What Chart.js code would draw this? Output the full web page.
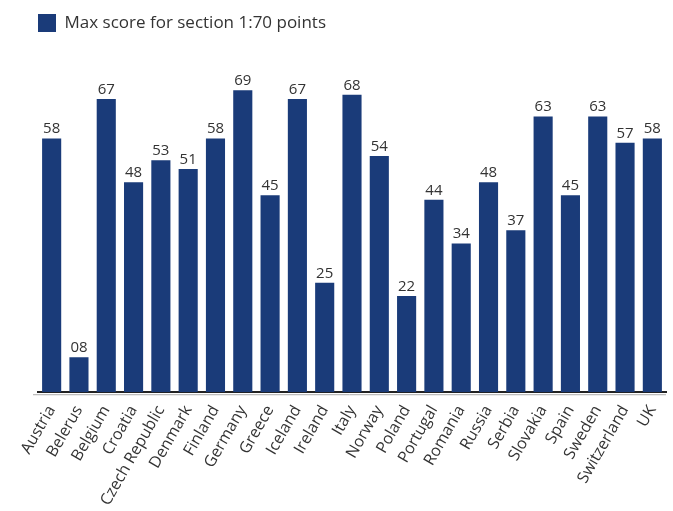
<!DOCTYPE html>
<html>
<head>
<meta charset="utf-8">
<script src="https://cdn.jsdelivr.net/npm/chart.js@4"></script>
<style>
  html, body { margin: 0; padding: 0; background: #fff; }
  #wrap { width: 673px; height: 511px; }
</style>
</head>
<body>
<div id="wrap"><canvas id="scoreChart" width="673" height="511"></canvas></div>
<script>
// Countries and their max score (section 1, out of 70)
const countries = ['Austria', 'Belerus', 'Belgium', 'Croatia', 'Czech Republic', 'Denmark', 'Finland',
  'Germany', 'Greece', 'Iceland', 'Ireland', 'Italy', 'Norway', 'Poland', 'Portugal', 'Romania',
  'Russia', 'Serbia', 'Slovakia', 'Spain', 'Sweden', 'Switzerland', 'UK'];
const scores = [58, 8, 67, 48, 53, 51, 58, 69, 45, 67, 25, 68, 54, 22, 44, 34, 48, 37, 63, 45, 63, 57, 58];
const seriesLabel = 'Max score for section 1:70 points';

const FONT = "'Open Sans', 'Noto Sans', sans-serif";

// small plugin to write the value on top of each bar
const valueLabels = {
  id: 'valueLabels',
  afterDatasetsDraw(chart) {
    const ctx = chart.ctx;
    const meta = chart.getDatasetMeta(0);
    ctx.save();
    ctx.font = '15px ' + FONT;
    ctx.fillStyle = '#333';
    ctx.textAlign = 'center';
    ctx.textBaseline = 'bottom';
    meta.data.forEach((bar, i) => {
      ctx.fillText(String(scores[i]).padStart(2, '0'), bar.x, bar.y - 2);
    });
    ctx.restore();
  }
};

// leave more room under the legend, and pull it to the left edge
const legendSpace = {
  id: 'legendSpace',
  beforeInit(chart) {
    const origFit = chart.legend.fit;
    chart.legend.fit = function () {
      origFit.call(this);
      this.height += 44;
    };
  },
  afterLayout(chart) {
    chart.legend.left -= 10;
    chart.legend.right -= 10;
  }
};

// faint grey shadow line under the dark baseline
const baseShadow = {
  id: 'baseShadow',
  afterDraw(chart) {
    const { ctx, chartArea } = chart;
    ctx.save();
    ctx.strokeStyle = '#aaa';
    ctx.lineWidth = 1;
    ctx.beginPath();
    ctx.moveTo(chartArea.left - 5, chartArea.bottom + 2.5);
    ctx.lineTo(chartArea.right, chartArea.bottom + 2.5);
    ctx.stroke();
    ctx.restore();
  }
};

const ctx = document.getElementById('scoreChart').getContext('2d');
new Chart(ctx, {
  type: 'bar',
  data: {
    labels: countries,
    datasets: [{
      label: seriesLabel,
      data: scores,
      backgroundColor: '#1a3b79',
      barPercentage: 0.7,
      categoryPercentage: 1.0
    }]
  },
  options: {
    responsive: false,
    animation: false,
    layout: { padding: { left: 38, right: 7, top: 4, bottom: 0 } },
    plugins: {
      legend: {
        align: 'start',
        labels: {
          boxWidth: 18,
          boxHeight: 18,
          color: '#333',
          font: { family: FONT, size: 17 },
          padding: 10
        }
      },
      tooltip: { enabled: false }
    },
    scales: {
      x: {
        grid: { display: false },
        border: { display: true, color: '#222', width: 2 },
        ticks: {
          minRotation: 60,
          maxRotation: 60,
          color: '#333',
          padding: 2,
          font: { family: FONT, size: 16 }
        }
      },
      y: {
        display: false,
        min: 0,
        max: 70
      }
    }
  },
  plugins: [valueLabels, legendSpace, baseShadow]
});
</script>
</body>
</html>
